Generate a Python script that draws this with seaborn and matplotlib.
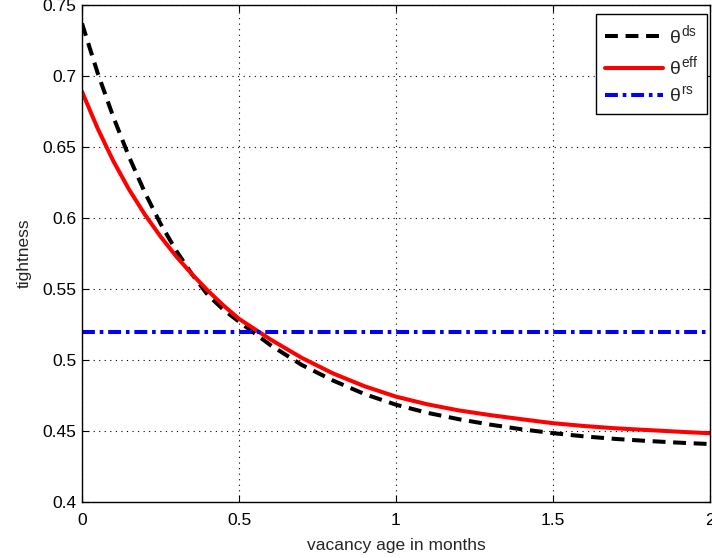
import numpy as np
import pandas as pd
import matplotlib
matplotlib.use("Agg")
import matplotlib.pyplot as plt
import seaborn as sns

# vacancy age (months) and market tightness for each wage-setting regime
age_months = [0.0, 0.05, 0.1, 0.15, 0.2, 0.25, 0.3, 0.35, 0.4, 0.45, 0.5, 0.6, 0.7,
              0.8, 0.9, 1.0, 1.1, 1.2, 1.3, 1.4, 1.5, 1.6, 1.7, 1.8, 1.9, 2.0]
theta_ds = [0.737, 0.702, 0.671, 0.643, 0.618, 0.596, 0.577, 0.5605, 0.546, 0.5355,
            0.527, 0.5105, 0.4965, 0.4855, 0.476, 0.4685, 0.4628, 0.4583, 0.4545,
            0.4512, 0.4485, 0.4462, 0.4444, 0.443, 0.4418, 0.4408]
theta_eff = [0.689, 0.663, 0.640, 0.620, 0.6025, 0.587, 0.573, 0.5605, 0.549, 0.5385,
             0.529, 0.5145, 0.5015, 0.4905, 0.4815, 0.4742, 0.4688, 0.4645, 0.4612,
             0.4583, 0.4555, 0.4535, 0.4519, 0.4507, 0.4495, 0.4484]
theta_rs = 0.5197

x_ticks = [0, 0.5, 1, 1.5, 2]
x_tick_labels = ["0", "0.5", "1", "1.5", "2"]
y_ticks = [0.4, 0.45, 0.5, 0.55, 0.6, 0.65, 0.7, 0.75]
y_tick_labels = ["0.4", "0.45", "0.5", "0.55", "0.6", "0.65", "0.7", "0.75"]

df = pd.DataFrame({
    "age": age_months,
    "ds": theta_ds,
    "eff": theta_eff,
    "rs": [theta_rs] * len(age_months),
})

sns.set_style("white")
plt.rcParams["font.family"] = ["Liberation Sans", "DejaVu Sans"]
plt.rcParams["mathtext.fontset"] = "custom"
plt.rcParams["mathtext.rm"] = "Liberation Sans"
plt.rcParams["mathtext.it"] = "Liberation Sans"
plt.rcParams["mathtext.bf"] = "Liberation Sans:bold"

W, H = 712, 558
L, R, T, B = 82, 710, 5, 502
fig = plt.figure(figsize=(W / 100, H / 100), dpi=100)
ax = fig.add_axes([L / W, 1 - B / H, (R - L) / W, (B - T) / H])

lw = 2.9
sns.lineplot(data=df, x="age", y="ds", ax=ax, color="black", linewidth=lw,
             label=r"$\theta^{\mathrm{ds}}$")
ax.lines[-1].set_dashes((3.2, 1.9))
sns.lineplot(data=df, x="age", y="eff", ax=ax, color="#ff0000", linewidth=lw,
             label=r"$\theta^{\mathrm{eff}}$")
sns.lineplot(data=df, x="age", y="rs", ax=ax, color="#0000ff", linewidth=lw,
             label=r"$\theta^{\mathrm{rs}}$")
ax.lines[-1].set_dashes((3.2, 1.2, 0.9, 1.2))

ax.set_xlim(0, 2)
ax.set_ylim(0.4, 0.75)
ax.set_xticks(x_ticks)
ax.set_xticklabels(x_tick_labels)
ax.set_yticks(y_ticks)
ax.set_yticklabels(y_tick_labels)
ax.tick_params(direction="in", length=5, width=0.8, labelsize=12.5, colors="black",
               top=True, right=True, bottom=True, left=True)
ax.tick_params(axis="x", pad=8)
ax.tick_params(axis="y", pad=4)
ax.grid(True, linestyle=(0, (1, 4)), color="black", linewidth=0.8)
for sp in ax.spines.values():
    sp.set_color("black")
    sp.set_linewidth(1.0)
    sp.set_visible(True)

ax.set_xlabel("vacancy age in months", fontsize=12.5, labelpad=7)
ax.set_ylabel("tightness", fontsize=12.5, labelpad=8)

ax_w, ax_h = R - L, B - T
leg = ax.legend(loc="upper right", bbox_to_anchor=((707 - L) / ax_w, 1 - (14 - T) / ax_h),
                borderaxespad=0, fontsize=14, handlelength=3.0, handletextpad=0.3,
                labelspacing=0.4, borderpad=0.45,
                fancybox=False, framealpha=1, edgecolor="black")
leg.get_frame().set_linewidth(1.0)

fig.savefig("out.png", dpi=100)
